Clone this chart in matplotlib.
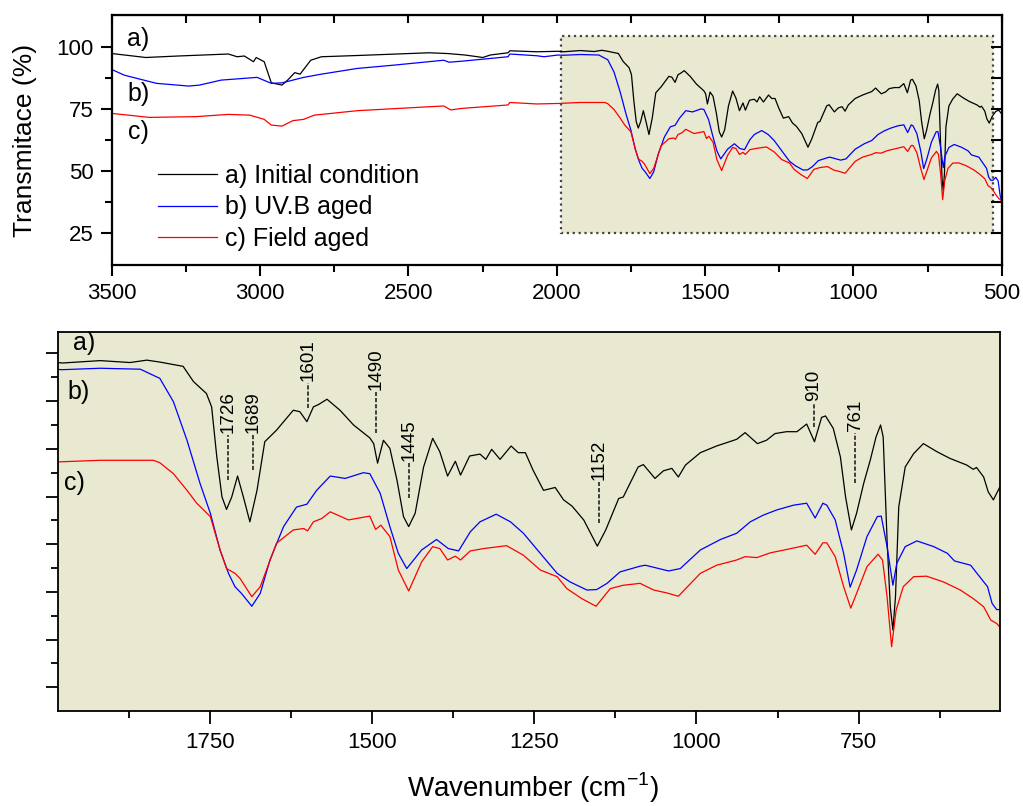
import matplotlib
matplotlib.use('Agg')
import matplotlib.pyplot as plt
from matplotlib.patches import Rectangle
from matplotlib.ticker import MultipleLocator, FixedLocator

plt.rcParams['font.family'] = ['Liberation Sans', 'DejaVu Sans']

# ---------------- data (wavenumber cm-1, transmittance %) ----------------
wn_a = [3500, 3385, 3276, 3107, 3077, 3053, 3034, 3022, 3013, 2986, 2962, 2926, 2907,
        2883, 2865, 2829, 2793, 2672, 2430, 2369, 2309, 2249, 2224, 2164, 2158, 2067,
        1995, 1978, 1920, 1874, 1848, 1828, 1792, 1776, 1756, 1748, 1740, 1732, 1725,
        1717, 1708, 1699, 1689, 1678, 1666, 1648, 1622, 1612, 1601, 1591, 1583, 1570,
        1550, 1529, 1504, 1498, 1492, 1483, 1473, 1462, 1452, 1444, 1434, 1421, 1407,
        1396, 1384, 1372, 1364, 1350, 1334, 1325, 1316, 1303, 1286, 1275, 1264, 1252,
        1236, 1218, 1205, 1192, 1174, 1153, 1140, 1120, 1113, 1090, 1082, 1064, 1051,
        1038, 1028, 1017, 994, 969, 938, 925, 906, 892, 879, 861, 845, 830, 818, 807,
        801, 789, 778, 770, 761, 753, 742, 732, 723, 716, 712, 706, 701, 697, 693, 688,
        678, 665, 650, 629, 609, 583, 573, 568, 557, 550, 542, 532, 520, 510, 500]
t_a = [97.3, 95.7, 96.3, 97.1, 96.0, 96.3, 94.9, 94.0, 95.7, 94.0, 85.5, 84.6, 86.6,
       89.6, 89.0, 94.6, 96.0, 96.5, 97.6, 97.3, 96.7, 95.7, 96.7, 97.6, 98.4, 98.0,
       98.2, 98.0, 98.5, 98.1, 98.6, 98.2, 97.3, 94.1, 91.6, 88.8, 78.3, 69.9, 67.3,
       69.9, 74.3, 69.9, 64.7, 71.3, 81.5, 83.9, 88.1, 87.8, 85.7, 88.8, 89.3, 90.4,
       88.1, 85.0, 82.3, 81.1, 77.0, 81.8, 80.1, 73.4, 65.8, 63.7, 66.5, 76.2, 82.2,
       79.4, 74.3, 77.4, 74.5, 78.5, 78.9, 77.8, 79.9, 77.8, 80.6, 79.2, 79.2, 75.5,
       71.3, 71.9, 69.3, 68.0, 65.1, 59.6, 63.0, 69.6, 69.9, 76.2, 76.7, 73.8, 75.4,
       75.9, 74.1, 76.6, 79.2, 80.6, 82.0, 83.4, 81.1, 81.8, 83.2, 83.6, 83.6, 85.2, 81.5, 86.6,
       86.9, 84.3, 78.3, 69.9, 63.0, 66.5, 72.8, 77.6, 82.5, 85.0, 82.5, 60.9, 46.9, 42.0, 49.0, 67.8,
       76.2, 79.0, 81.1, 79.4, 78.0, 76.6, 75.7, 76.1, 74.1, 71.0, 69.3, 72.0, 74.0, 74.5, 73.0]

wn_b = [3500, 3458, 3349, 3240, 3204, 3131, 3010, 2962, 2926, 2853, 2793, 2672, 2551,
        2381, 2363, 2321, 2164, 2158, 2067, 2043, 1995, 1978, 1920, 1858, 1833, 1828,
        1807, 1786, 1766, 1750, 1735, 1722, 1712, 1702, 1686, 1673, 1658, 1637, 1617,
        1601, 1586, 1565, 1542, 1514, 1504, 1488, 1473, 1460, 1447, 1424, 1401, 1383,
        1367, 1349, 1334, 1309, 1287, 1267, 1241, 1215, 1195, 1169, 1154, 1138, 1118,
        1087, 1079, 1043, 1025, 994, 963, 938, 917, 897, 876, 850, 830, 817, 805, 799,
        786, 773, 763, 753, 737, 721, 715, 706, 697, 691, 678, 660, 634, 613, 602, 577,
        569, 551, 544, 537, 529, 520, 512, 505, 500]
t_b = [90.9, 88.6, 85.3, 84.2, 84.6, 86.6, 87.7, 85.3, 85.5, 87.7, 89.0, 91.3, 92.6,
       94.6, 93.8, 94.2, 96.0, 97.1, 96.4, 96.0, 96.7, 96.6, 96.9, 96.7, 95.1, 94.8,
       89.9, 81.8, 72.8, 66.5, 58.8, 53.9, 51.1, 49.7, 47.0, 49.7, 56.7, 63.7, 67.8,
       68.4, 71.3, 74.3, 73.8, 75.0, 74.8, 70.7, 63.7, 58.1, 54.9, 58.8, 61.0, 59.1,
       58.6, 62.6, 64.7, 66.3, 64.7, 62.3, 58.1, 53.9, 52.1, 50.4, 50.5, 51.8, 54.2,
       55.4, 55.6, 54.4, 54.9, 58.8, 61.0, 62.3, 64.7, 66.1, 67.2, 68.2, 68.6, 65.5, 68.6, 68.2,
       65.1, 58.1, 51.0, 54.6, 61.6, 65.8, 65.9, 59.5, 51.4, 56.0, 59.5, 60.7, 59.5, 58.1, 56.5, 55.6,
       54.2, 51.1, 47.6, 46.3, 46.3, 47.5, 46.0, 40.0, 38.0]

wn_c = [3500, 3373, 3216, 3107, 3034, 2986, 2962, 2926, 2889, 2853, 2817, 2672, 2381,
        2357, 2321, 2164, 2158, 2067, 1995, 1978, 1920, 1838, 1828, 1807, 1786, 1771,
        1750, 1735, 1725, 1712, 1704, 1686, 1673, 1648, 1622, 1606, 1600, 1591, 1578,
        1565, 1537, 1504, 1495, 1487, 1473, 1460, 1444, 1424, 1407, 1396, 1384, 1372,
        1364, 1349, 1328, 1293, 1267, 1241, 1215, 1200, 1177, 1155, 1133, 1113, 1087,
        1066, 1046, 1028, 994, 969, 938, 925, 907, 886, 861, 830, 817, 805, 799, 786,
        773, 762, 753, 737, 720, 713, 706, 699, 692, 681, 665, 645, 619, 593, 573, 557,
        546, 537, 529, 520, 510, 500]
t_c = [73.2, 71.6, 71.9, 72.8, 72.5, 70.8, 68.5, 68.1, 70.3, 70.8, 72.5, 74.3, 76.2,
       74.6, 75.2, 76.6, 77.6, 77.0, 77.2, 77.3, 77.6, 77.6, 77.1, 74.8, 71.3, 68.6,
       65.8, 58.8, 54.9, 53.9, 52.8, 49.0, 51.1, 60.2, 63.0, 63.3, 62.8, 64.7, 65.4,
       66.8, 65.1, 65.9, 63.1, 64.0, 61.6, 54.6, 50.2, 56.3, 59.5, 59.1, 56.7, 57.5,
       56.7, 58.6, 59.1, 59.7, 57.7, 54.6, 53.2, 50.7, 48.6, 47.0, 50.7, 51.4, 51.8,
       50.4, 49.8, 49.1, 53.9, 55.6, 56.7, 57.4, 57.2, 58.2, 58.9, 59.8, 57.9, 60.3, 60.3, 57.4,
       51.1, 46.6, 49.7, 55.3, 57.9, 56.7, 49.0, 38.5, 46.2, 51.1, 53.2, 53.3, 52.1, 50.4, 48.6, 46.9,
       44.1, 43.4, 42.2, 40.5, 39.0, 38.0]

series_labels = ['a) Initial condition', 'b) UV.B aged', 'c) Field aged']
series_colors = ['#000000', '#0000ff', '#ff0000']

peak_labels = ['1726', '1689', '1601', '1490', '1445', '1152', '910', '761']
peak_pos = [1723, 1684, 1599, 1494, 1443, 1150, 819, 755]
peak_line_lo = [73.4, 75.5, 88.5, 83.3, 69.6, 64.5, 84.6, 72.8]
peak_line_hi = [82.9, 82.9, 93.8, 91.9, 77.0, 73.0, 89.6, 83.3]

zoom_range = (1985, 531)
zoom_t_range = (25.1, 104.5)
panel_bg = '#e8e9d0'

# ---------------- figure ----------------
fig = plt.figure(figsize=(10.23, 8.06), dpi=100)
W, H = 1023, 806
ax1 = fig.add_axes([111.7 / W, 1 - 265 / H, 890 / W, 250 / H])
ax2 = fig.add_axes([58 / W, 1 - 710.7 / H, 942.5 / W, 378.7 / H])

series = [(wn_a, t_a), (wn_b, t_b), (wn_c, t_c)]

# top panel
ax1.add_patch(Rectangle((zoom_range[1], zoom_t_range[0]),
                        zoom_range[0] - zoom_range[1],
                        zoom_t_range[1] - zoom_t_range[0],
                        facecolor=panel_bg, edgecolor='#444444', linestyle=':',
                        linewidth=1.6, zorder=0))
for (x, y), c, lab in zip(series, series_colors, series_labels):
    ax1.plot(x, y, color=c, lw=0.9, label=lab, zorder=2)

ax1.set_xlim(3500, 500)
ax1.set_ylim(12.2, 112.8)
ax1.xaxis.set_major_locator(MultipleLocator(500))
ax1.xaxis.set_minor_locator(MultipleLocator(250))
ax1.yaxis.set_major_locator(FixedLocator([25, 50, 75, 100]))
ax1.yaxis.set_minor_locator(FixedLocator([37.5, 62.5, 87.5]))
ax1.tick_params(which='major', direction='out', length=8, width=1.5, labelsize=16, pad=5)
ax1.tick_params(which='minor', direction='out', length=5, width=1.5)
for s in ax1.spines.values():
    s.set_linewidth(1.6)

sec_top = ax1.secondary_xaxis('top')
sec_top.set_xticks([3500 - 250 * i for i in range(13)])
sec_top.tick_params(direction='in', length=6, width=1.5, labeltop=False)
sec_top.set_xticklabels([])
sec_right = ax1.secondary_yaxis('right')
sec_right.set_yticks([25, 37.5, 50, 62.5, 75, 87.5, 100])
sec_right.tick_params(direction='in', length=8, width=1.5)
sec_right.set_yticklabels([])

for txt, yv in zip(['a)', 'b)', 'c)'], [103.2, 81.0, 65.8]):
    ax1.text(3411, yv, txt, fontsize=18, ha='center', va='center')

ax1.legend(loc='upper left', bbox_to_anchor=(0.052, 0.405), frameon=False, fontsize=18,
           handlelength=2.36, handletextpad=0.32, labelspacing=0.3, borderpad=0,
           borderaxespad=0)

# bottom panel
ax2.set_facecolor(panel_bg)
for (x, y), c in zip(series, series_colors):
    ax2.plot(x, y, color=c, lw=0.9)
ax2.set_xlim(*zoom_range)
ax2.set_ylim(*zoom_t_range)
ax2.xaxis.set_major_locator(MultipleLocator(250))
ax2.xaxis.set_minor_locator(MultipleLocator(125))
ax2.yaxis.set_major_locator(MultipleLocator(10))
ax2.yaxis.set_minor_locator(MultipleLocator(5))
ax2.tick_params(which='major', direction='out', length=9, width=1.3, labelsize=16, pad=6)
ax2.tick_params(which='minor', direction='out', length=5, width=1.3)
ax2.tick_params(axis='y', labelleft=False)
for s in ax2.spines.values():
    s.set_linewidth(1.3)

for txt, xv, yv in zip(['a)', 'b)', 'c)'], [1945, 1953, 1960], [102.2, 91.9, 72.8]):
    ax2.text(xv, yv, txt, fontsize=18, ha='center', va='center')

for lab, xp, lo, hi in zip(peak_labels, peak_pos, peak_line_lo, peak_line_hi):
    ax2.plot([xp, xp], [lo, hi], color='#222222', lw=1.2, linestyle=(0, (2.5, 1.2)))
    ax2.text(xp, hi + 0.4, lab, rotation=90, fontsize=13.5, ha='center', va='bottom')

fig.text(25 / W, 1 - 140 / H, 'Transmitace (%)', rotation=90, fontsize=19,
         ha='center', va='center')
fig.text(533 / W, 1 - 797 / H, 'Wavenumber (cm$^{\\mathregular{-1}}$)', fontsize=20,
         ha='center', va='baseline')

fig.savefig('out.png', dpi=100)
